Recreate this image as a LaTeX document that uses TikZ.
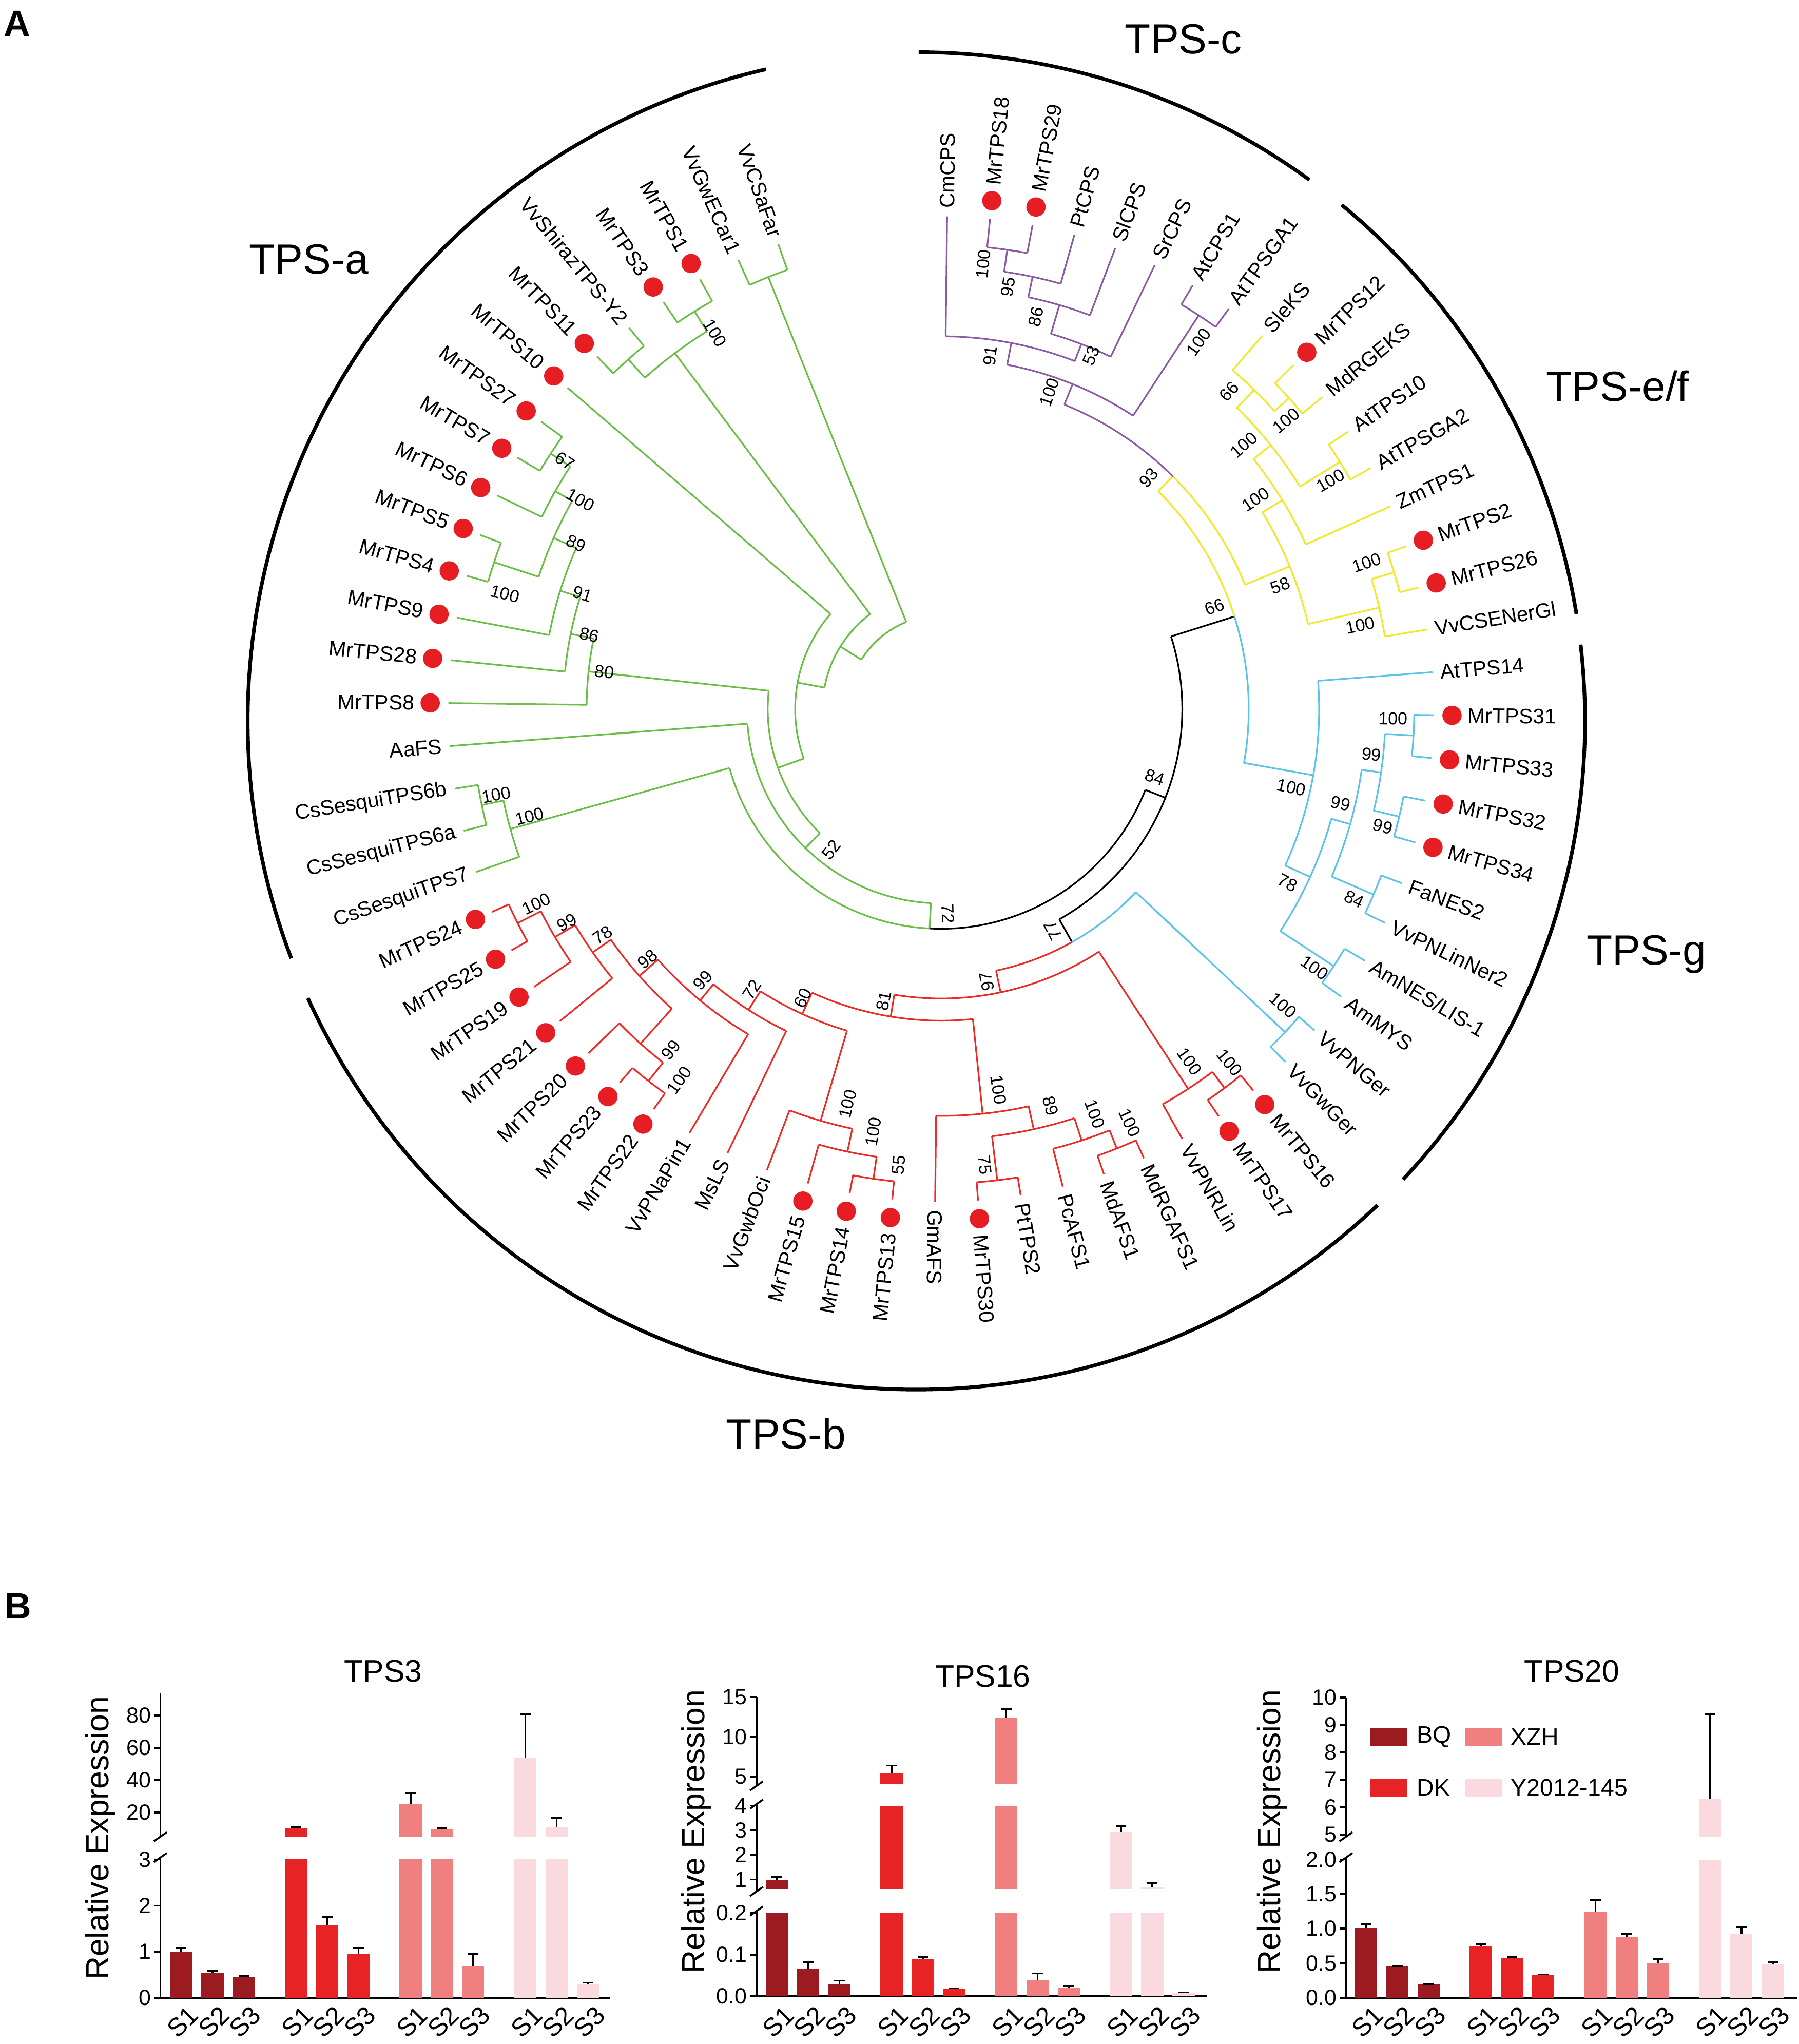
\documentclass[tikz,border=0pt]{standalone}
\usepackage{fontspec}
\setmainfont{Liberation Sans}
\usetikzlibrary{positioning}

\definecolor{grn}{RGB}{106,189,69}
\definecolor{pur}{RGB}{140,90,165}
\definecolor{yel}{RGB}{240,232,40}
\definecolor{cyn}{RGB}{90,196,230}
\definecolor{trd}{RGB}{236,42,38}
\definecolor{dotred}{RGB}{230,30,36}
\definecolor{cBQ}{RGB}{155,27,32}
\definecolor{cDK}{RGB}{232,35,38}
\definecolor{cXZH}{RGB}{240,128,128}
\definecolor{cY}{RGB}{250,218,222}

% tree helpers: arc of a node, radial stem, whole node
\newcommand\arcat[4]{\draw[twig,#1] (#3:#2) arc[start angle=#3, end angle=#4, radius=#2];}
\newcommand\stem[4]{\draw[twig,#1] (#2:#3) -- (#2:#4);}
\newcommand\clade[6]{\stem{#1}{#2}{#3}{#4}\arcat{#1}{#4}{#5}{#6}}

% leaf: name, colour, angle, parent radius, text, dot
\newcommand\leaf[6]{%
  \draw[twig,#2] (#3:#4) -- (#3:378);
  \ifnum#6=1 \fill[dotred] (#3:392) circle[radius=7.4]; \def\lrad{404}\else\def\lrad{384}\fi
  \pgfmathtruncatemacro\lleft{#3<267}%
  \ifnum\lleft=1
    \node (#1) [leaftxt, anchor=east, rotate=#3-180] at (#3:\lrad) {#5};
  \else
    \node (#1) [leaftxt, anchor=west, rotate=#3] at (#3:\lrad) {#5};
  \fi}

% bootstrap value
\newcounter{bsn}
\newcommand\boot[3]{%
  \stepcounter{bsn}%
  \pgfmathsetmacro\ba{mod(#1+720,360)}%
  \pgfmathtruncatemacro\bleft{and(\ba>100,\ba<267)}%
  \ifnum\bleft=1
    \node (bs\arabic{bsn}) [bstxt, rotate=#1+180] at (#1:#2) {#3};
  \else
    \node (bs\arabic{bsn}) [bstxt, rotate=#1] at (#1:#2) {#3};
  \fi}

% bar chart helpers
\newcounter{tkn}
\newcommand\bx[4]{\fill[#1] (#2-8.5,#3) rectangle (#2+8.5,#4);}
\newcommand\eb[3]{\draw[axln] (#1,#2) -- (#1,#3) (#1-4,#3) -- (#1+4,#3);}
\newcommand\tk[3]{\stepcounter{tkn}\draw[axln] (#1-5,#2) -- (#1,#2);
  \node (tk\arabic{tkn}) [ticktxt, anchor=east] at (#1-7,#2) {#3};}
\newcommand\brk[2]{\draw[axln] (#1-5,#2-3.5) -- (#1+5,#2+3.5);}
\newcommand\slab[1]{\stepcounter{tkn}%
  \node (sl\arabic{tkn}a) [stxt, rotate=45] at (#1+1,17) {S1};
  \node (sl\arabic{tkn}b) [stxt, rotate=45] at (#1+25,17) {S2};
  \node (sl\arabic{tkn}c) [stxt, rotate=45] at (#1+49,17) {S3};}

\begin{document}
\begin{tikzpicture}[x=0.025cm, y=0.025cm,
    twig/.style={line width=0.9pt},
    leaftxt/.style={font=\fontsize{11.4}{13}\selectfont, inner sep=0pt},
    bstxt/.style={font=\fontsize{9.5}{11}\selectfont, inner sep=0pt},
    cladetxt/.style={font=\fontsize{23}{27}\selectfont},
    brace/.style={line width=2pt},
    axln/.style={line width=1pt},
    ticktxt/.style={font=\fontsize{12}{14}\selectfont, inner sep=0pt},
    stxt/.style={font=\fontsize{14}{16}\selectfont, inner sep=0pt},
    ttl/.style={font=\fontsize{17}{20}\selectfont},
    ylab/.style={font=\fontsize{17.5}{20}\selectfont},
    legbox/.style={minimum width=7.1mm, minimum height=3.5mm, inner sep=0pt},
    legtxt/.style={font=\fontsize{13}{15}\selectfont, inner sep=0pt},
    panel/.style={font=\fontsize{20}{24}\selectfont\bfseries}
  ]
  \useasboundingbox (0,0) rectangle (1380,1568);

  \node (pA) [panel] at (13,1550) {A};
  \node (pB) [panel] at (14,336) {B};

  % ---------------- tree ----------------
  \begin{scope}[shift={(722,1024)}]
    % spine
    \arcat{grn}{72}{111.8}{148.17}
    \clade{grn}{111.8}{72}{357}{109.3}{114.3}
    \clade{grn}{148.17}{72}{91}{126.8}{169.54}
    \clade{grn}{126.8}{91}{341}{121.8}{131.8}
    \clade{grn}{121.8}{341}{359}{119.3}{124.3}
    \clade{grn}{131.8}{341}{360}{129.3}{134.3}
    \clade{grn}{169.54}{91}{112}{139.3}{199.78}
    \clade{grn}{199.78}{112}{133}{173.91}{225.65}
    \clade{grn}{173.91}{133}{272}{168.52}{179.3}
    \clade{grn}{168.52}{272}{290}{162.74}{174.3}
    \clade{grn}{162.74}{290}{306}{156.175}{169.3}
    \clade{grn}{156.175}{306}{325}{150.55}{161.8}
    \clade{grn}{150.55}{325}{340}{146.8}{154.3}
    \clade{grn}{146.8}{340}{358}{144.3}{149.3}
    \clade{grn}{161.8}{325}{361}{159.3}{164.3}
    \clade{grn}{225.65}{133}{149}{184.3}{266.99}
    \stem{grn}{266.99}{149}{168.5}
    \arcat{grn}{168.5}{195.55}{266.99}
    \arcat{black}{168.5}{266.99}{338.43}
    \clade{grn}{195.55}{168.5}{343}{191.8}{199.3}
    \clade{grn}{191.8}{343}{360}{189.3}{194.3}

    % backbone
    \clade{black}{338.43}{168.5}{185}{299.34}{377.53}
    \stem{black}{299.34}{185}{205}
    \arcat{trd}{205}{281.87}{299.34}
    \arcat{cyn}{205}{299.34}{316.8}
    \stem{black}{377.53}{185}{236}
    \arcat{cyn}{236}{349.93}{377.53}
    \arcat{yel}{236}{377.53}{405.12}

    % TPS-b
    \clade{trd}{281.87}{205}{222}{260.69}{303.05}
    \clade{trd}{260.69}{222}{239}{245.51}{275.86}
    \clade{trd}{245.51}{239}{257}{237.35}{253.68}
    \clade{trd}{237.35}{257}{274}{230.39}{244.3}
    \clade{trd}{230.39}{274}{290}{221.49}{239.3}
    \clade{trd}{221.49}{290}{309}{214.925}{228.05}
    \clade{trd}{214.925}{309}{326}{210.55}{219.3}
    \clade{trd}{210.55}{326}{344}{206.8}{214.3}
    \clade{trd}{206.8}{344}{364}{204.3}{209.3}
    \clade{trd}{228.05}{309}{345}{224.3}{231.8}
    \clade{trd}{231.8}{345}{363}{229.3}{234.3}
    \clade{trd}{253.68}{257}{329}{249.3}{258.05}
    \clade{trd}{258.05}{329}{347}{254.3}{261.8}
    \clade{trd}{261.8}{347}{364}{259.3}{264.3}
    \clade{trd}{275.86}{239}{312}{269.3}{282.43}
    \clade{trd}{282.43}{312}{330}{276.8}{288.05}
    \clade{trd}{276.8}{330}{364}{274.3}{279.3}
    \clade{trd}{288.05}{330}{348}{284.3}{291.8}
    \clade{trd}{291.8}{348}{363}{289.3}{294.3}
    \clade{trd}{303.05}{222}{347.5}{299.3}{306.8}
    \clade{trd}{306.8}{347.5}{363}{304.3}{309.3}

    % TPS-g
    \clade{cyn}{316.8}{205}{362}{314.3}{319.3}
    \clade{cyn}{349.93}{236}{290}{335.55}{364.3}
    \clade{cyn}{335.55}{290}{311}{326.8}{344.3}
    \clade{cyn}{326.8}{311}{360}{324.3}{329.3}
    \clade{cyn}{344.3}{311}{326}{336.8}{351.8}
    \clade{cyn}{336.8}{326}{361}{334.3}{339.3}
    \clade{cyn}{351.8}{326}{341}{346.8}{356.8}
    \clade{cyn}{346.8}{341}{361}{344.3}{349.3}
    \clade{cyn}{356.8}{341}{363}{354.3}{359.3}

    % TPS-e/f and TPS-c
    \stem{yel}{405.12}{236}{252}
    \arcat{yel}{252}{382.27}{405.12}
    \arcat{pur}{252}{405.12}{427.97}
    \clade{yel}{382.27}{252}{289}{373.05}{391.49}
    \clade{yel}{373.05}{289}{345}{369.3}{376.8}
    \clade{yel}{376.8}{345}{363}{374.3}{379.3}
    \clade{yel}{391.49}{289}{307}{384.3}{398.68}
    \clade{yel}{398.68}{307}{324}{391.8}{405.55}
    \clade{yel}{391.8}{324}{360}{389.3}{394.3}
    \clade{yel}{405.55}{324}{343}{401.8}{409.3}
    \clade{yel}{401.8}{343}{358}{399.3}{404.3}
    \clade{pur}{427.97}{252}{269}{416.8}{439.14}
    \clade{pur}{416.8}{269}{361}{414.3}{419.3}
    \clade{pur}{439.14}{269}{286}{428.99}{449.3}
    \clade{pur}{428.99}{286}{300}{424.3}{433.68}
    \clade{pur}{433.68}{300}{323}{429.3}{438.05}
    \clade{pur}{438.05}{323}{339}{434.3}{441.8}
    \clade{pur}{441.8}{339}{356}{439.3}{444.3}

    % leaves
    \leaf{vvcsafar}{grn}{109.3}{357}{VvCSaFar}{0}
    \leaf{vvgwecar}{grn}{114.3}{357}{VvGwECar1}{0}
    \leaf{mr1}{grn}{119.3}{359}{MrTPS1}{1}
    \leaf{mr3}{grn}{124.3}{359}{MrTPS3}{1}
    \leaf{vvshiraz}{grn}{129.3}{360}{VvShirazTPS-Y2}{0}
    \leaf{mr11}{grn}{134.3}{360}{MrTPS11}{1}
    \leaf{mr10}{grn}{139.3}{112}{MrTPS10}{1}
    \leaf{mr27}{grn}{144.3}{358}{MrTPS27}{1}
    \leaf{mr7}{grn}{149.3}{358}{MrTPS7}{1}
    \leaf{mr6}{grn}{154.3}{340}{MrTPS6}{1}
    \leaf{mr5}{grn}{159.3}{361}{MrTPS5}{1}
    \leaf{mr4}{grn}{164.3}{361}{MrTPS4}{1}
    \leaf{mr9}{grn}{169.3}{306}{MrTPS9}{1}
    \leaf{mr28}{grn}{174.3}{290}{MrTPS28}{1}
    \leaf{mr8}{grn}{179.3}{272}{MrTPS8}{1}
    \leaf{aafs}{grn}{184.3}{149}{AaFS}{0}
    \leaf{cs6b}{grn}{189.3}{360}{CsSesquiTPS6b}{0}
    \leaf{cs6a}{grn}{194.3}{360}{CsSesquiTPS6a}{0}
    \leaf{cs7}{grn}{199.3}{343}{CsSesquiTPS7}{0}
    \leaf{mr24}{trd}{204.3}{364}{MrTPS24}{1}
    \leaf{mr25}{trd}{209.3}{364}{MrTPS25}{1}
    \leaf{mr19}{trd}{214.3}{344}{MrTPS19}{1}
    \leaf{mr21}{trd}{219.3}{326}{MrTPS21}{1}
    \leaf{mr20}{trd}{224.3}{345}{MrTPS20}{1}
    \leaf{mr23}{trd}{229.3}{363}{MrTPS23}{1}
    \leaf{mr22}{trd}{234.3}{363}{MrTPS22}{1}
    \leaf{vvpnapin}{trd}{239.3}{290}{VvPNaPin1}{0}
    \leaf{msls}{trd}{244.3}{274}{MsLS}{0}
    \leaf{vvgwboci}{trd}{249.3}{329}{VvGwbOci}{0}
    \leaf{mr15}{trd}{254.3}{347}{MrTPS15}{1}
    \leaf{mr14}{trd}{259.3}{364}{MrTPS14}{1}
    \leaf{mr13}{trd}{264.3}{364}{MrTPS13}{1}
    \leaf{gmafs}{trd}{269.3}{312}{GmAFS}{0}
    \leaf{mr30}{trd}{274.3}{364}{MrTPS30}{1}
    \leaf{pttps}{trd}{279.3}{364}{PtTPS2}{0}
    \leaf{pcafs}{trd}{284.3}{348}{PcAFS1}{0}
    \leaf{mdafs}{trd}{289.3}{363}{MdAFS1}{0}
    \leaf{mdrgafs}{trd}{294.3}{363}{MdRGAFS1}{0}
    \leaf{vvpnrlin}{trd}{299.3}{347.5}{VvPNRLin}{0}
    \leaf{mr17}{trd}{304.3}{363}{MrTPS17}{1}
    \leaf{mr16}{trd}{309.3}{363}{MrTPS16}{1}
    \leaf{vvgwger}{cyn}{314.3}{362}{VvGwGer}{0}
    \leaf{vvpnger}{cyn}{319.3}{362}{VvPNGer}{0}
    \leaf{ammys}{cyn}{324.3}{360}{AmMYS}{0}
    \leaf{amnes}{cyn}{329.3}{360}{AmNES/LIS-1}{0}
    \leaf{vvpnlin}{cyn}{334.3}{361}{VvPNLinNer2}{0}
    \leaf{fanes}{cyn}{339.3}{361}{FaNES2}{0}
    \leaf{mr34}{cyn}{344.3}{361}{MrTPS34}{1}
    \leaf{mr32}{cyn}{349.3}{361}{MrTPS32}{1}
    \leaf{mr33}{cyn}{354.3}{363}{MrTPS33}{1}
    \leaf{mr31}{cyn}{359.3}{363}{MrTPS31}{1}
    \leaf{attps14}{cyn}{364.3}{290}{AtTPS14}{0}
    \leaf{vvcsener}{yel}{369.3}{345}{VvCSENerGl}{0}
    \leaf{mr26}{yel}{374.3}{363}{MrTPS26}{1}
    \leaf{mr2}{yel}{379.3}{363}{MrTPS2}{1}
    \leaf{zmtps}{yel}{384.3}{307}{ZmTPS1}{0}
    \leaf{attpsga2}{yel}{389.3}{360}{AtTPSGA2}{0}
    \leaf{attps10}{yel}{394.3}{360}{AtTPS10}{0}
    \leaf{mdrgeks}{yel}{399.3}{358}{MdRGEKS}{0}
    \leaf{mr12}{yel}{404.3}{358}{MrTPS12}{1}
    \leaf{sleks}{yel}{409.3}{343}{SleKS}{0}
    \leaf{attpsga1}{pur}{414.3}{361}{AtTPSGA1}{0}
    \leaf{atcps}{pur}{419.3}{361}{AtCPS1}{0}
    \leaf{srcps}{pur}{424.3}{300}{SrCPS}{0}
    \leaf{slcps}{pur}{429.3}{323}{SlCPS}{0}
    \leaf{ptcps}{pur}{434.3}{339}{PtCPS}{0}
    \leaf{mr29}{pur}{439.3}{356}{MrTPS29}{1}
    \leaf{mr18}{pur}{444.3}{356}{MrTPS18}{1}
    \leaf{cmcps}{pur}{449.3}{286}{CmCPS}{0}

    % bootstrap values
    \boot{121.0}{336.8}{100} \boot{146.6}{345.8}{67} \boot{149.9}{319.9}{100}
    \boot{155.6}{307.6}{89} \boot{165.2}{346}{100} \boot{162.2}{288.9}{91}
    \boot{168.1}{275.9}{86} \boot{173.7}{259.8}{80}
    \boot{-169.1}{347.6}{100} \boot{-165.4}{326.3}{100}
    \boot{-128}{136.8}{52} \boot{-88}{156.9}{72}
    \boot{-17.7}{172}{84} \boot{20.5}{223.9}{66}
    \boot{-154.3}{344.8}{100} \boot{-150.3}{330.6}{99} \boot{-146.3}{312.3}{78}
    \boot{-139.6}{295.8}{98} \boot{-128.4}{333.5}{99} \boot{-125.2}{348.3}{100}
    \boot{-131.3}{276.8}{99} \boot{-124}{259.7}{72} \boot{-115.6}{245.7}{60}
    \boot{-103.3}{311.2}{100} \boot{-99.1}{328.3}{100} \boot{-95.3}{351.3}{55}
    \boot{-101.1}{228.1}{81} \boot{-81.4}{295.4}{100} \boot{-84.5}{351.3}{75}
    \boot{-74.6}{315.9}{89} \boot{-69.2}{332.2}{100} \boot{-65.5}{348.8}{100}
    \boot{-54.8}{330.8}{100} \boot{-50.8}{349.9}{100}
    \node (bs97) [bstxt, rotate=99.5] at (-80.5:211.9) {97};
    \node (bs77) [bstxt, rotate=116.8] at (-63.2:190.2) {77};
    \boot{-40.9}{347}{100} \boot{-34.7}{348.5}{100} \boot{-26.6}{297.5}{78}
    \boot{-24.7}{349}{84} \boot{-13.3}{314.9}{99} \boot{-14.9}{350.7}{99}
    \boot{-6.0}{332}{99} \boot{-1.2}{346.7}{100} \boot{-12.6}{275.3}{100}
    \boot{39.9}{345}{100} \boot{47.8}{329}{66} \boot{30.4}{346.3}{100}
    \boot{41.1}{308.2}{100} \boot{33.7}{290}{100} \boot{19.0}{345.2}{100}
    \boot{11.3}{327.9}{100} \boot{20.0}{277}{58} \boot{48.1}{238.6}{93}
    \boot{84.6}{343}{100} \boot{81}{328}{95} \boot{76.4}{309.7}{86}
    \boot{67.0}{294.5}{53} \boot{82.1}{273.7}{91} \boot{54.96}{344}{100}
    \boot{71.1}{256.9}{100}
  \end{scope}

  % subfamily brackets
  \begin{scope}[shift={(703,1015)}]
    \draw[brace] (103:513) arc[start angle=103, end angle=200.8, radius=513];
    \draw[brace] (204.5:513) arc[start angle=204.5, end angle=313.6, radius=513];
    \draw[brace] (316.7:513) arc[start angle=316.7, end angle=366.55, radius=513];
    \draw[brace] (369.2:513) arc[start angle=369.2, end angle=410.5, radius=513];
    \draw[brace] (414:513) arc[start angle=414, end angle=449.8, radius=513];
  \end{scope}
  \node (tpsc)  [cladetxt] at (908,1538) {TPS-c};
  \node (tpsa)  [cladetxt] at (237,1369) {TPS-a};
  \node (tpsef) [cladetxt] at (1241,1272) {TPS-e/f};
  \node (tpsg)  [cladetxt] at (1263,836) {TPS-g};
  \node (tpsb)  [cladetxt] at (603,468) {TPS-b};

  % ---------------- TPS3 ----------------
  \node (ttl3) [ttl] at (294,286) {TPS3};
  \node (ylab3) [ylab, rotate=90] at (77,158) {Relative Expression};
  \draw[axln] (123,35.4) -- (468,35.4);
  \draw[axln] (123,35.4) -- (123,143);
  \draw[axln] (123,159) -- (123,269.5);
  \brk{123}{143} \brk{123}{159}
  \tk{123}{35.4}{0} \tk{123}{70.8}{1} \tk{123}{106.2}{2} \tk{123}{141.6}{3}
  \tk{123}{177.5}{20} \tk{123}{202.4}{40} \tk{123}{227.2}{60} \tk{123}{252}{80}
  \bx{cBQ}{139}{35.4}{70.8} \eb{139}{70.8}{73.6}
  \bx{cBQ}{163}{35.4}{54.9} \eb{163}{54.9}{55.9}
  \bx{cBQ}{187}{35.4}{51.3} \eb{187}{51.3}{52.4}
  \bx{cDK}{227}{35.4}{141.6} \bx{cDK}{227}{159}{165.7} \eb{227}{165.7}{166.6}
  \bx{cDK}{251}{35.4}{91} \eb{251}{91}{97.4}
  \bx{cDK}{275}{35.4}{69} \eb{275}{69}{73.6}
  \bx{cXZH}{315}{35.4}{141.6} \bx{cXZH}{315}{159}{184.1} \eb{315}{184.1}{192.3}
  \bx{cXZH}{339}{35.4}{141.6} \bx{cXZH}{339}{159}{164.9} \eb{339}{164.9}{165.8}
  \bx{cXZH}{363}{35.4}{59.5} \eb{363}{59.5}{69}
  \bx{cY}{403}{35.4}{141.6} \bx{cY}{403}{159}{219.8} \eb{403}{219.8}{252.7}
  \bx{cY}{427}{35.4}{141.6} \bx{cY}{427}{159}{166.5} \eb{427}{166.5}{173.6}
  \bx{cY}{451}{35.4}{46} \eb{451}{46}{47.1}
  \slab{139} \slab{227} \slab{315} \slab{403}

  % ---------------- TPS16 ----------------
  \node (ttl16) [ttl] at (754,282) {TPS16};
  \node (ylab16) [ylab, rotate=90] at (534,163) {Relative Expression};
  \draw[axln] (580.4,36.6) -- (925.6,36.6);
  \draw[axln] (580.4,36.6) -- (580.4,102);
  \draw[axln] (580.4,117) -- (580.4,184);
  \draw[axln] (580.4,198) -- (580.4,266.1);
  \brk{580.4}{102} \brk{580.4}{117} \brk{580.4}{184} \brk{580.4}{198}
  \tk{580.4}{36.6}{0.0} \tk{580.4}{68.5}{0.1} \tk{580.4}{100.4}{0.2}
  \tk{580.4}{126.2}{1} \tk{580.4}{145.1}{2} \tk{580.4}{164}{3} \tk{580.4}{182.9}{4}
  \tk{580.4}{205.1}{5} \tk{580.4}{235.6}{10} \tk{580.4}{266.1}{15}
  \bx{cBQ}{596}{36.6}{100.4} \bx{cBQ}{596}{118.6}{126.2} \eb{596}{126.2}{128.1}
  \bx{cBQ}{620}{36.6}{57.3} \eb{620}{57.3}{62.8}
  \bx{cBQ}{644}{36.6}{45.5} \eb{644}{45.5}{48.7}
  \bx{cDK}{684}{36.6}{100.4} \bx{cDK}{684}{118.6}{182.9} \bx{cDK}{684}{199.3}{207.8} \eb{684}{207.8}{213.6}
  \bx{cDK}{708}{36.6}{65.3} \eb{708}{65.3}{66.9}
  \bx{cDK}{732}{36.6}{42.3} \eb{732}{42.3}{42.7}
  \bx{cXZH}{772}{36.6}{100.4} \bx{cXZH}{772}{118.6}{182.9} \bx{cXZH}{772}{199.3}{250.4} \eb{772}{250.4}{256.8}
  \bx{cXZH}{796}{36.6}{49.4} \eb{796}{49.4}{54.1}
  \bx{cXZH}{820}{36.6}{43} \eb{820}{43}{44.3}
  \bx{cY}{860}{36.6}{100.4} \bx{cY}{860}{118.6}{162.8} \eb{860}{162.8}{167}
  \bx{cY}{884}{36.6}{100.4} \bx{cY}{884}{118.6}{120.5} \eb{884}{120.5}{123.3}
  \bx{cY}{908}{36.6}{39.2} \eb{908}{39.2}{39.5}
  \slab{596} \slab{684} \slab{772} \slab{860}

  % ---------------- TPS20 ----------------
  \node (ttl20) [ttl] at (1206,286) {TPS20};
  \node (ylab20) [ylab, rotate=90] at (976,163) {Relative Expression};
  \draw[axln] (1032.6,35.4) -- (1379,35.4);
  \draw[axln] (1032.6,35.4) -- (1032.6,143);
  \draw[axln] (1032.6,159) -- (1032.6,265.7);
  \brk{1032.6}{143} \brk{1032.6}{159}
  \tk{1032.6}{35.4}{0.0} \tk{1032.6}{61.9}{0.5} \tk{1032.6}{88.5}{1.0}
  \tk{1032.6}{115}{1.5} \tk{1032.6}{141.5}{2.0}
  \tk{1032.6}{160.7}{5} \tk{1032.6}{181.7}{6} \tk{1032.6}{202.7}{7}
  \tk{1032.6}{223.7}{8} \tk{1032.6}{244.7}{9} \tk{1032.6}{265.7}{10}
  \bx{cBQ}{1048}{35.4}{89} \eb{1048}{89}{92.2}
  \bx{cBQ}{1072}{35.4}{59.3} \eb{1072}{59.3}{59.6}
  \bx{cBQ}{1096}{35.4}{45.5} \eb{1096}{45.5}{45.8}
  \bx{cDK}{1136}{35.4}{75.2} \eb{1136}{75.2}{76.8}
  \bx{cDK}{1160}{35.4}{65.6} \eb{1160}{65.6}{66.7}
  \bx{cDK}{1184}{35.4}{52.9} \eb{1184}{52.9}{53.4}
  \bx{cXZH}{1224}{35.4}{101.7} \eb{1224}{101.7}{110.7}
  \bx{cXZH}{1248}{35.4}{82.1} \eb{1248}{82.1}{84.2}
  \bx{cXZH}{1272}{35.4}{61.9} \eb{1272}{61.9}{65.1}
  \bx{cY}{1312}{35.4}{141.5} \bx{cY}{1312}{159}{188} \eb{1312}{188}{253.1}
  \bx{cY}{1336}{35.4}{84.2} \eb{1336}{84.2}{89.5}
  \bx{cY}{1360}{35.4}{60.9} \eb{1360}{60.9}{63}
  \slab{1048} \slab{1136} \slab{1224} \slab{1312}

  % legend
  \node (bqbox)  [legbox, fill=cBQ]  at (1065.6,235.6) {};
  \node (xzhbox) [legbox, fill=cXZH] at (1138.4,235.6) {};
  \node (dkbox)  [legbox, fill=cDK]  at (1065.6,196.5) {};
  \node (ybox)   [legbox, fill=cY]   at (1138.4,196.5) {};
  \node (bqtxt)  [legtxt, right=1.7mm of bqbox]  {BQ};
  \node (xzhtxt) [legtxt, right=1.5mm of xzhbox] {XZH};
  \node (dktxt)  [legtxt, right=1.7mm of dkbox]  {DK};
  \node (ytxt)   [legtxt, right=1.5mm of ybox]   {Y2012-145};
\end{tikzpicture}
\end{document}
